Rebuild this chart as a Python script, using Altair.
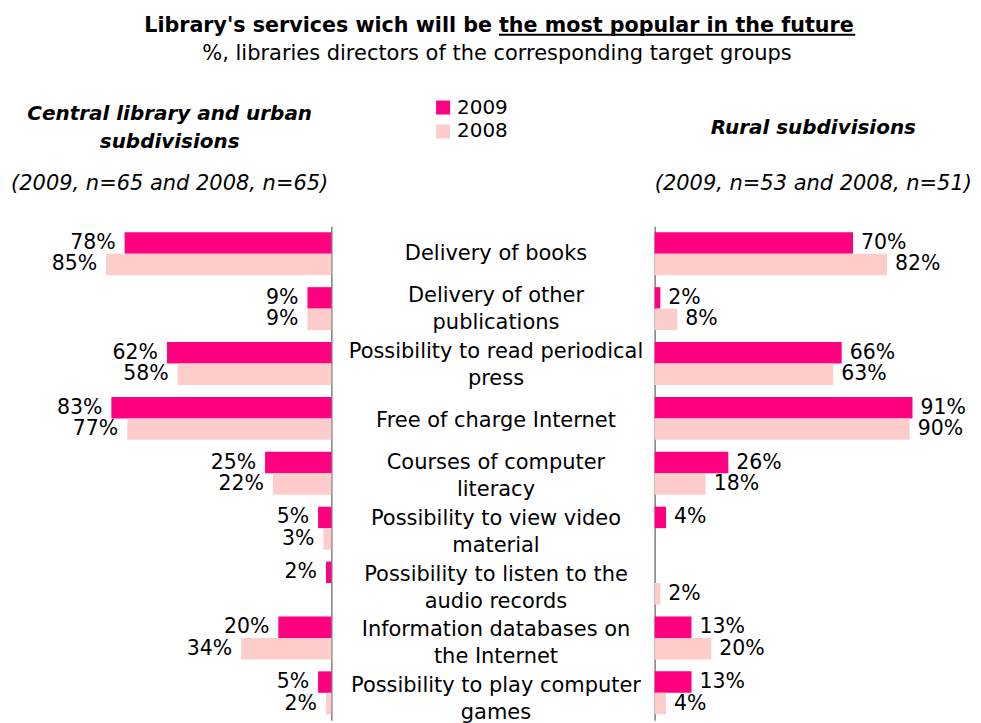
import altair as alt
import pandas as pd

# ---------------- data ----------------
TITLE_MAIN = "Library's services wich will be"
TITLE_UNDERLINED = "the most popular in the future"
SUBTITLE = "%, libraries directors of the corresponding target groups"

LEFT_HEADER = ["Central library and urban", "subdivisions"]
LEFT_SUB = "(2009, n=65 and 2008, n=65)"
RIGHT_HEADER = "Rural subdivisions"
RIGHT_SUB = "(2009, n=53 and 2008, n=51)"

YEARS = ["2009", "2008"]
COLORS = ["#FF0080", "#FFCCCC"]

CATEGORY_LINES = [
    ["Delivery of books"],
    ["Delivery of other", "publications"],
    ["Possibility to read periodical", "press"],
    ["Free of charge Internet"],
    ["Courses of computer", "literacy"],
    ["Possibility to view video", "material"],
    ["Possibility to listen to the", "audio records"],
    ["Information databases on", "the Internet"],
    ["Possibility to play computer", "games"],
]

LEFT_2009 = [78, 9, 62, 83, 25, 5, 2, 20, 5]
LEFT_2008 = [85, 9, 58, 77, 22, 3, None, 34, 2]
RIGHT_2009 = [70, 2, 66, 91, 26, 4, None, 13, 13]
RIGHT_2008 = [82, 8, 63, 90, 18, None, 2, 20, 4]

CATEGORIES = [" ".join(l) for l in CATEGORY_LINES]
LABELS = ["\n".join(l) for l in CATEGORY_LINES]
NLINES = [len(l) for l in CATEGORY_LINES]


def long_table(v2009, v2008):
    rows = []
    for c, a, b in zip(CATEGORIES, v2009, v2008):
        rows.append({"category": c, "year": "2009", "value": a})
        rows.append({"category": c, "year": "2008", "value": b})
    return pd.DataFrame(rows)


df_left = long_table(LEFT_2009, LEFT_2008)
df_right = long_table(RIGHT_2009, RIGHT_2008)
df_mid = pd.DataFrame({"category": CATEGORIES, "label": LABELS, "nlines": NLINES})

FONT = "DejaVu Sans"
TXT = "#000000"

cat_scale = alt.Scale(domain=CATEGORIES, paddingInner=0.218, paddingOuter=0.109)
mid_scale = alt.Scale(domain=CATEGORIES, paddingInner=0, paddingOuter=0)
off_scale = alt.Scale(domain=YEARS, paddingInner=0, paddingOuter=0)

color = alt.Color(
    "year:N",
    scale=alt.Scale(domain=YEARS, range=COLORS),
    legend=alt.Legend(
        title=None, orient="none", legendX=426, legendY=89,
        symbolType="square", symbolSize=196, symbolStrokeWidth=0,
        labelFont=FONT, labelFontSize=20, labelColor=TXT,
        rowPadding=4, labelOffset=4,
    ),
)


def side(df, reverse, domain_max, width, axis_orient, align, dx, title):
    base = alt.Chart(df).transform_filter("isValid(datum.value)").transform_calculate(
        label="datum.value + '%'"
    )
    x = alt.X("value:Q", scale=alt.Scale(domain=[0, domain_max], reverse=reverse, nice=False), axis=None)
    y = alt.Y(
        "category:N", scale=cat_scale, sort=None,
        axis=alt.Axis(orient=axis_orient, labels=False, ticks=False, title=None, grid=False,
                      domainColor="#808080", domainWidth=1.5),
    )
    yoff = alt.YOffset("year:N", scale=off_scale, sort=YEARS)
    bars = base.mark_bar().encode(x=x, y=y, yOffset=yoff, color=color)
    labels = base.mark_text(
        align=align, baseline="middle", dx=dx, font=FONT, fontSize=20.5, color=TXT
    ).encode(x=x, y=y, yOffset=yoff, text="label:N")
    return alt.layer(bars, labels).properties(width=width, height=495, title=title)


left_title = alt.TitleParams(
    text=LEFT_HEADER, subtitle=LEFT_SUB, anchor="middle", font=FONT, fontSize=20,
    fontWeight="bold", fontStyle="italic", lineHeight=29, color=TXT,
    subtitleFont=FONT, subtitleFontSize=21, subtitleFontStyle="italic", subtitleColor=TXT,
    subtitlePadding=21, offset=32,
)
right_title = alt.TitleParams(
    text=RIGHT_HEADER, subtitle=RIGHT_SUB, anchor="middle", font=FONT, fontSize=20,
    fontWeight="bold", fontStyle="italic", lineHeight=29, color=TXT,
    subtitleFont=FONT, subtitleFontSize=21, subtitleFontStyle="italic", subtitleColor=TXT,
    subtitlePadding=35, offset=32,
)

left = side(df_left, True, 122, 324, "right", "right", -9, left_title)
right = side(df_right, False, 112, 318, "left", "left", 8, right_title)

mid_base = alt.Chart(df_mid)
mid_y = alt.Y("category:N", scale=mid_scale, sort=None, axis=None)
mid_one = mid_base.transform_filter("datum.nlines == 1").mark_text(
    lineBreak="\n", font=FONT, fontSize=21, lineHeight=27, dx=3.5, dy=0,
    align="center", baseline="middle", color=TXT,
).encode(y=mid_y, text="label:N")
mid_two = mid_base.transform_filter("datum.nlines == 2").mark_text(
    lineBreak="\n", font=FONT, fontSize=21, lineHeight=27, dx=3.5, dy=-13.5,
    align="center", baseline="middle", color=TXT,
).encode(y=mid_y, text="label:N")
mid = alt.layer(mid_one, mid_two).properties(width=323, height=502)

body = alt.hconcat(left, mid, right, spacing=0)

# ---------------- header ----------------
hdr = alt.Chart(pd.DataFrame({"a": [0]}))
t1 = hdr.mark_text(align="right", baseline="middle", font=FONT, fontSize=20.7,
                   fontWeight="bold", color=TXT).encode(
    x=alt.value(485), y=alt.value(17), text=alt.value(TITLE_MAIN))
t2 = hdr.mark_text(align="left", baseline="middle", font=FONT, fontSize=20.7,
                   fontWeight="bold", color=TXT).encode(
    x=alt.value(492), y=alt.value(17), text=alt.value(TITLE_UNDERLINED))
ul = hdr.mark_rule(color=TXT, strokeWidth=2).encode(
    x=alt.value(492), x2=alt.value(849), y=alt.value(26))
st = hdr.mark_text(align="center", baseline="middle", font=FONT, fontSize=21,
                   color=TXT).encode(
    x=alt.value(490), y=alt.value(45), text=alt.value(SUBTITLE))
header = alt.layer(t1, t2, ul, st).properties(width=965, height=90)

chart = alt.vconcat(header, body, spacing=5).properties(padding=0).configure(
    font=FONT, view=alt.ViewConfig(stroke=None)
)

chart.save("out.html", embed_options={"renderer": "svg", "actions": False})
